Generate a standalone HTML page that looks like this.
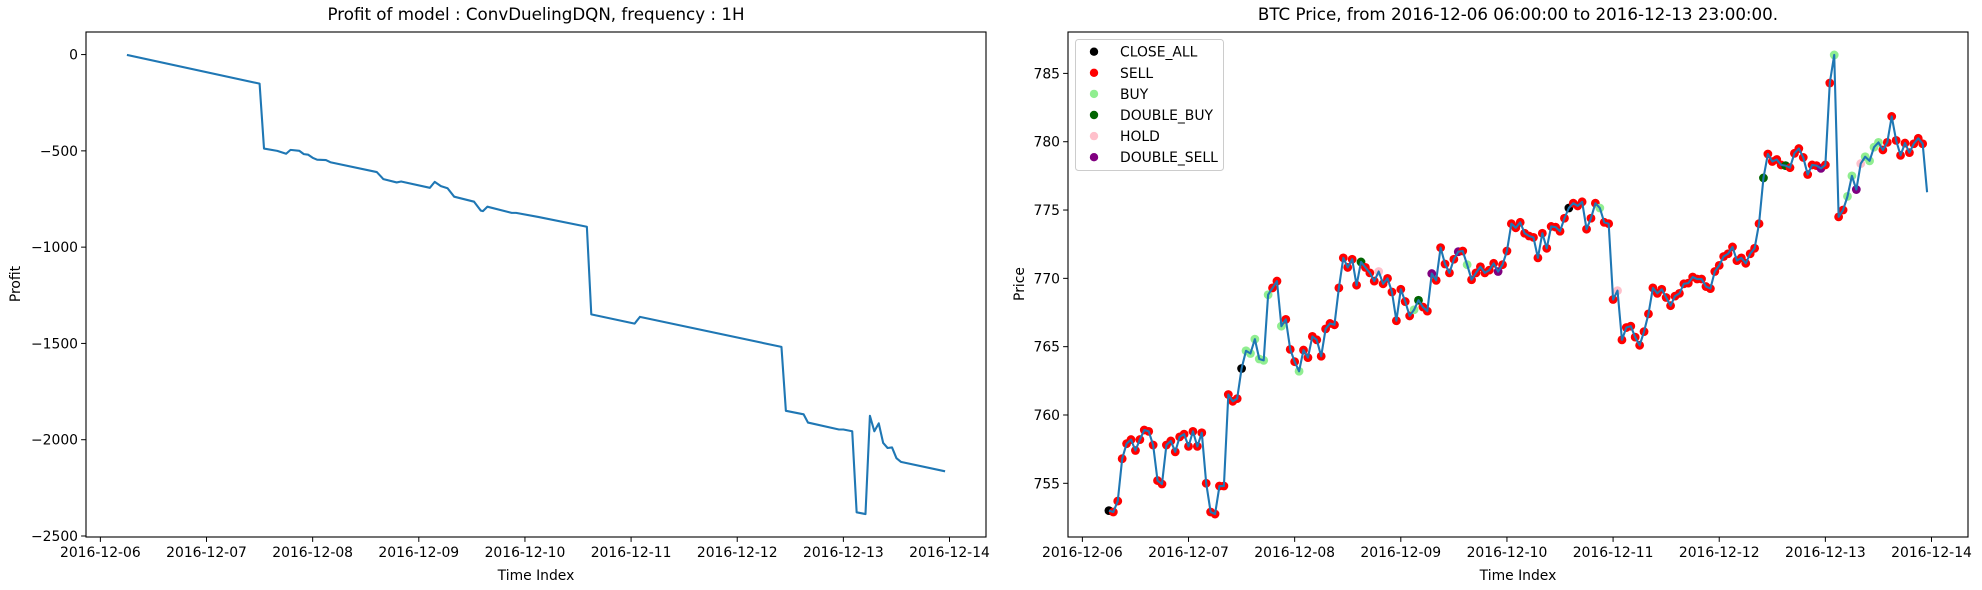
<!DOCTYPE html>
<html><head><meta charset="utf-8">
<style>
html,body{margin:0;padding:0;background:#fff;}
svg{display:block;font-family:"DejaVu Sans","Liberation Sans",sans-serif;}
</style></head>
<body>
<svg id="fig" width="1982" height="590" viewBox="0 0 1982 590" xmlns="http://www.w3.org/2000/svg">
<rect x="0" y="0" width="1982" height="590" fill="#fff"/>
<text x="536" y="20" font-size="16.7" text-anchor="middle">Profit of model : ConvDuelingDQN, frequency : 1H</text>
<text x="1518" y="20" font-size="16.7" text-anchor="middle">BTC Price, from 2016-12-06 06:00:00 to 2016-12-13 23:00:00.</text>
<text x="536" y="580" font-size="13.9" text-anchor="middle">Time Index</text>
<text x="1518" y="580" font-size="13.9" text-anchor="middle">Time Index</text>
<text x="0" y="0" font-size="13.9" text-anchor="middle" transform="translate(20,284) rotate(-90)">Profit</text>
<text x="0" y="0" font-size="13.9" text-anchor="middle" transform="translate(1024,284) rotate(-90)">Price</text>
<g id="left"></g>
<g id="right"></g>
<g id="legend"></g>
</svg>
<script>
// ---- data ----
const xTickHours = [0,24,48,72,96,120,144,168,192];
const xTickLabels = ["2016-12-06","2016-12-07","2016-12-08","2016-12-09","2016-12-10","2016-12-11","2016-12-12","2016-12-13","2016-12-14"];
const profitTicks = [0,-500,-1000,-1500,-2000,-2500];
const profitTickLabels = ["0","\u2212500","\u22121000","\u22121500","\u22122000","\u22122500"];
const priceTicks = [755,760,765,770,775,780,785];
const priceTickLabels = ["755","760","765","770","775","780","785"];
const profitHours = [6,36,37,40,42,43,45,46,47,48,49,51,52,62.5,64,67,68,74.5,75.6,77,78.5,80,84.5,86,86.5,87.5,93,94,99,110,111,120.8,122,154,155,159,160,167,168,170,171,173,174,175,176,177,178,179,180,181,191];
const profitValues = [-2,-151,-488,-500,-515,-495,-500,-517,-520,-536,-546,-548,-559,-610,-647,-664,-659,-692,-661,-683,-694,-738,-764,-810,-813,-790,-822,-822,-843,-894,-1349,-1397,-1362,-1518,-1850,-1868,-1911,-1947,-1947,-1956,-2377,-2386,-1876,-1956,-1915,-2017,-2043,-2040,-2096,-2115,-2164];
const priceStartHour = 6;
const priceValues = [
753.0,752.9,753.7,756.8,757.9,758.2,757.4,758.2,758.9,758.8,
757.8,755.2,754.95,757.8,758.1,757.3,758.4,758.6,757.7,758.8,
757.7,758.7,755.0,752.9,752.75,754.8,754.8,761.5,761.0,761.2,
763.4,764.7,764.5,765.55,764.1,764.0,768.8,769.3,769.8,766.5,
767.0,764.8,763.9,763.2,764.75,764.2,765.75,765.5,764.3,766.3,
766.7,766.6,769.3,771.5,770.8,771.4,769.5,771.2,770.8,770.4,
769.8,770.5,769.6,770.0,769.0,766.9,769.2,768.3,767.25,767.7,
768.4,767.9,767.6,770.35,769.85,772.25,771.05,770.4,771.4,771.95,
772.0,771.0,769.9,770.4,770.85,770.4,770.6,771.1,770.5,771.0,
772.0,774.0,773.7,774.1,773.3,773.1,773.0,771.5,773.3,772.2,
773.8,773.75,773.45,774.4,775.15,775.5,775.3,775.6,773.6,774.4,
775.5,775.15,774.1,774.0,768.45,769.1,765.5,766.4,766.5,765.7,
765.1,766.1,767.4,769.3,768.9,769.2,768.6,768.0,768.7,768.9,
769.6,769.65,770.1,769.95,769.95,769.4,769.25,770.5,770.95,771.6,
771.8,772.3,771.3,771.5,771.1,771.8,772.2,774.0,777.35,779.1,
778.55,778.7,778.3,778.25,778.1,779.15,779.5,778.85,777.6,778.3,
778.25,778.05,778.3,784.3,786.35,774.5,775.0,776.0,777.5,776.5,
778.4,778.9,778.6,779.6,779.95,779.4,779.95,781.85,780.1,779.0,
779.9,779.2,779.85,780.25,779.85,776.3];
const markerEndHour = 190;
const closeAllHours = [6,36,110];
const buyHours = [37,38,39,40,41,42,45,49,75,87,117,170,173,174,177,178,179,180];
const doubleBuyHours = [63,76,154,159];
const holdHours = [67,121,176];
const doubleSellHours = [79,85,94,167,175];
const legendLabels = ["CLOSE_ALL","SELL","BUY","DOUBLE_BUY","HOLD","DOUBLE_SELL"];
const legendColors = ["#000000","#ff0000","#90ee90","#006400","#ffc0cb","#800080"];

// ---- helpers ----
const NS = "http://www.w3.org/2000/svg";
function mk(tag, attrs, parent){ const e=document.createElementNS(NS,tag); for(const k in attrs) e.setAttribute(k,attrs[k]); parent.appendChild(e); return e; }
const xDom=[-3.25,200.25];
function makeX(x0,x1){ return h => x0 + (h-xDom[0])/(xDom[1]-xDom[0])*(x1-x0); }
const plotTop=32, plotBot=537;
function makeY(d0,d1){ return v => plotBot - (v-d0)/(d1-d0)*(plotBot-plotTop); }

function axes(g, x0, x1, yScale, yTicks, yLabels, xScale, prefix){
  xTickHours.forEach((h,i)=>{
    const x=xScale(h);
    const t=mk('line',{x1:x,x2:x,y1:plotBot,y2:plotBot+4.9,stroke:'#000','stroke-width':1},g);
    
    
    const l=mk('text',{x:x,y:plotBot+20,'font-size':13.9,'text-anchor':'middle'},g);
    l.textContent=xTickLabels[i];
    
    
  });
  yTicks.forEach((v,i)=>{
    const y=yScale(v);
    const t=mk('line',{x1:x0-4.9,x2:x0,y1:y,y2:y,stroke:'#000','stroke-width':1},g);
    
    
    const l=mk('text',{x:x0-8,y:y+5,'font-size':13.9,'text-anchor':'end'},g);
    l.textContent=yLabels[i];
    
    
  });
  const r=mk('rect',{x:x0,y:plotTop,width:x1-x0,height:plotBot-plotTop,fill:'none',stroke:'#000','stroke-width':1.1},g);
  
  
}

// ---- left chart ----
const L=document.getElementById('left');


const lx=makeX(86,986);
const pMin=Math.min(...profitValues), pMax=Math.max(...profitValues), pm=(pMax-pMin)*0.05;
const ly=makeY(pMin-pm,pMax+pm);
const lp=mk('polyline',{points:profitHours.map((h,i)=>lx(h)+','+ly(profitValues[i])).join(' '),fill:'none',stroke:'#1f77b4','stroke-width':2.1,'stroke-linejoin':'round'},L);


axes(L,86,986,ly,profitTicks,profitTickLabels,lx,'profit');

// ---- right chart ----
const R=document.getElementById('right');


const rx=makeX(1068,1968);
const qMin=Math.min(...priceValues), qMax=Math.max(...priceValues), qm=(qMax-qMin)*0.05;
const ry=makeY(qMin-qm,qMax+qm);
function colorFor(h){
  if(closeAllHours.includes(h)) return legendColors[0];
  if(buyHours.includes(h)) return legendColors[2];
  if(doubleBuyHours.includes(h)) return legendColors[3];
  if(holdHours.includes(h)) return legendColors[4];
  if(doubleSellHours.includes(h)) return legendColors[5];
  return legendColors[1];
}
priceValues.forEach((v,i)=>{
  const h=priceStartHour+i;
  if(h>markerEndHour) return;
  const c=mk('circle',{cx:rx(h),cy:ry(v),r:4.4,fill:colorFor(h)},R);
  
  
});
const rp=mk('polyline',{points:priceValues.map((v,i)=>rx(priceStartHour+i)+','+ry(v)).join(' '),fill:'none',stroke:'#1f77b4','stroke-width':2.1,'stroke-linejoin':'round'},R);


axes(R,1068,1968,ry,priceTicks,priceTickLabels,rx,'price');

// ---- legend ----
const G=document.getElementById('legend');
const lb=mk('rect',{x:1075.5,y:39.5,width:148,height:131,rx:3,fill:'#fff','fill-opacity':0.8,stroke:'#ccc','stroke-width':1},G);


legendLabels.forEach((lab,i)=>{
  const y=51.7+i*21.1;
  const c=mk('circle',{cx:1094,cy:y,r:4.2,fill:legendColors[i]},G);
  
  
  const t=mk('text',{x:1120,y:y+5,'font-size':13.9},G);
  t.textContent=lab;
  
  
});
</script>
</body></html>
